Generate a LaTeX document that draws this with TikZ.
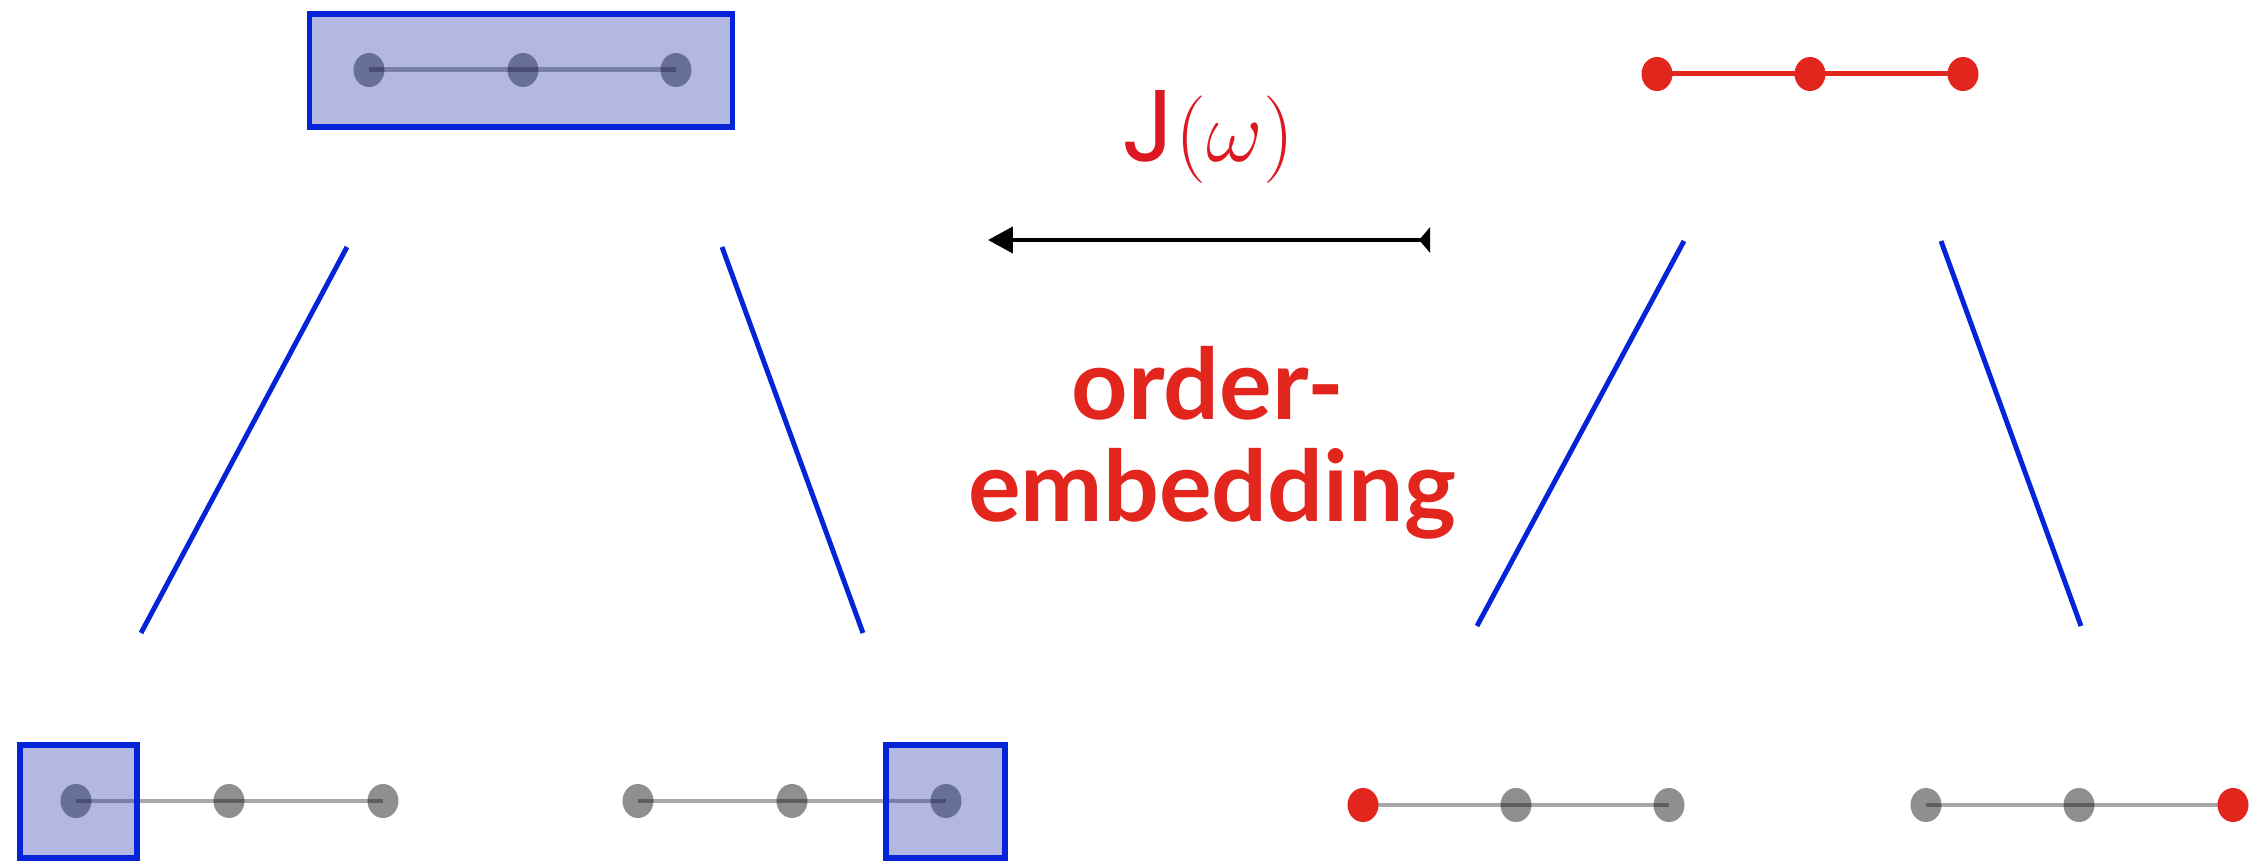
\documentclass[tikz,border=0pt]{standalone}
\usepackage{fontspec}
\setmainfont{Poppins}
\newfontfamily\lblfont{Lato}
\usetikzlibrary{arrows.meta,shapes.geometric}
\definecolor{tblue}{RGB}{5,35,215}
\definecolor{tfill}{RGB}{34,51,170}
\definecolor{tred}{RGB}{226,38,30}
\definecolor{jred}{RGB}{220,24,32}
\begin{document}
\begin{tikzpicture}[x=0.01cm,y=-0.01cm,
  gdot/.style={ellipse, fill=black, fill opacity=0.44, minimum width=0.31cm, minimum height=0.34cm, inner sep=0pt},
  rdot/.style={ellipse, fill=tred, minimum width=0.31cm, minimum height=0.34cm, inner sep=0pt},
  gline/.style={line width=1.42pt, draw=black, draw opacity=0.34},
  rline/.style={line width=1.42pt, draw=tred},
  selbox/.style={draw=tblue, line width=1.45pt, fill=tfill, fill opacity=0.35, inner sep=0pt, minimum height=1.13cm},
  treeline/.style={draw=tblue, line width=1.4pt},
  lbl/.style={text=tred, inner sep=0pt}
]
\useasboundingbox (0,0) rectangle (2259,861);

% top left: whole chain selected
\node[gdot] (t1) at (369,70) {};
\node[gdot] (t2) at (523,70) {};
\node[gdot] (t3) at (676,70) {};
\draw[gline] (t1.center) -- (t3.center);
\node[selbox, minimum width=4.22cm] (topbox) at (521,70.5) {};

% bottom left 1
\node[gdot] (a1) at (76,801) {};
\node[gdot] (a2) at (229,801) {};
\node[gdot] (a3) at (383,801) {};
\draw[gline] (a1.center) -- (a3.center);
\node[selbox, minimum width=1.17cm] (abox) at (78.5,801.5) {};

% bottom left 2
\node[gdot] (b1) at (638,801) {};
\node[gdot] (b2) at (792,801) {};
\node[gdot] (b3) at (946,801) {};
\draw[gline] (b1.center) -- (b3.center);
\node[selbox, minimum width=1.19cm] (bbox) at (945.5,801.5) {};

% left tree lines
\coordinate (lt1) at (347,247);
\coordinate (lb1) at (141,633);
\coordinate (lt2) at (722,247);
\coordinate (lb2) at (863,633);
\draw[treeline] (lt1) -- (lb1);
\draw[treeline] (lt2) -- (lb2);

% top right red chain
\draw[rline] (1657,74) coordinate (rs) -- (1963,74) coordinate (re);
\node[rdot] (r1) at (rs) {};
\node[rdot] (r2) at (1810,74) {};
\node[rdot] (r3) at (re) {};

% bottom right 1
\node[gdot] (c2) at (1516,805) {};
\node[gdot] (c3) at (1669,805) {};
\coordinate (c1c) at (1363,805);
\draw[gline] (c1c) -- (c3.center);
\node[rdot] (c1) at (c1c) {};

% bottom right 2
\node[gdot] (d1) at (1926,805) {};
\node[gdot] (d2) at (2079,805) {};
\coordinate (d3c) at (2233,805);
\draw[gline] (d1.center) -- (d3c);
\node[rdot] (d3) at (d3c) {};

% right tree lines
\coordinate (rt1) at (1684,241);
\coordinate (rb1) at (1477,626);
\coordinate (rt2) at (1941,241);
\coordinate (rb2) at (2081,626);
\draw[treeline] (rt1) -- (rb1);
\draw[treeline] (rt2) -- (rb2);

% arrow
\coordinate (arS) at (1430,240);
\coordinate (arE) at (988,240);
\draw[line width=1.14pt, {Triangle[reversed,length=3.1pt,width=7.1pt]}-{Triangle[length=7.1pt,width=7.4pt]}] (arS) -- (arE);

% labels
\node[text=jred, anchor=base west, inner sep=0pt] (jw) at (1121,162) {\fontsize{29pt}{33pt}\selectfont J$(\omega)$};
\node[lbl, anchor=base] (oe1) at (1208,420) {\lblfont\bfseries\fontsize{28pt}{32pt}\selectfont order-};
\node[lbl, anchor=base] (oe2) at (1212,522) {\lblfont\bfseries\fontsize{28pt}{32pt}\selectfont embedding};
\end{tikzpicture}
\end{document}
